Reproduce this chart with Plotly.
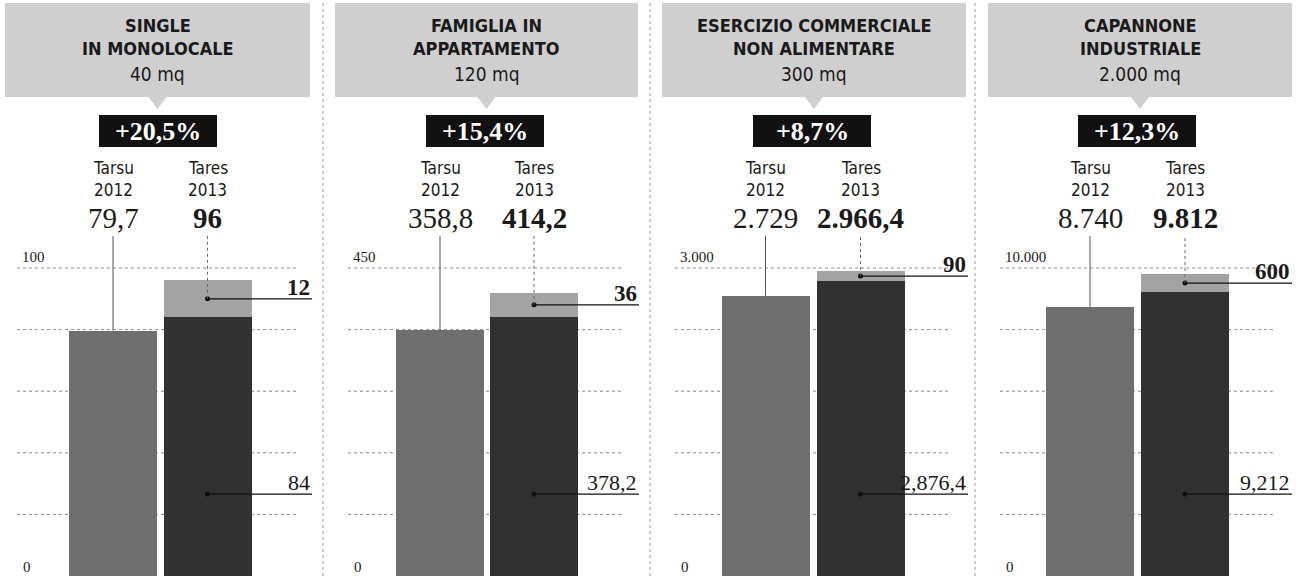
import plotly.graph_objects as go

# ---------------- data ----------------
title_line1 = ["SINGLE", "FAMIGLIA IN", "ESERCIZIO COMMERCIALE", "CAPANNONE"]
title_line2 = ["IN MONOLOCALE", "APPARTAMENTO", "NON ALIMENTARE", "INDUSTRIALE"]
surface = ["40 mq", "120 mq", "300 mq", "2.000 mq"]
pct_change = ["+20,5%", "+15,4%", "+8,7%", "+12,3%"]
categories = ["Tarsu 2012", "Tares 2013"]
cat_name = ["Tarsu", "Tares"]
cat_year = ["2012", "2013"]
tarsu_2012 = [79.7, 358.8, 2729, 8740]
tares_base = [84, 378.2, 2876.4, 9212]
tares_extra = [12, 36, 90, 600]
tarsu_text = ["79,7", "358,8", "2.729", "8.740"]
tares_text = ["96", "414,2", "2.966,4", "9.812"]
base_text = ["84", "378,2", "2,876,4", "9,212"]
extra_text = ["12", "36", "90", "600"]
axis_max = [100, 450, 3000, 10000]
axis_max_text = ["100", "450", "3.000", "10.000"]

# ---------------- style / layout constants ----------------
W, H = 1300, 576
SANS = "DejaVu Sans Condensed, Liberation Sans Narrow, Roboto, sans-serif"
SERIF = "Liberation Serif, DejaVu Serif, serif"
INK = "#1a1a1a"
C_TARSU = "#6e6e6e"
C_BASE = "#313131"
C_EXTRA = "#a3a3a3"
C_HEAD = "#cfcfcf"

grid_start = [17, 348, 675, 1000]
grid_end = [297, 623, 948, 1275]
label_right = [312, 639, 968, 1292]
c0 = [113, 440, 765.5, 1090]
c1 = [207.5, 534, 860.5, 1185]
header = [(5, 310), (335, 638), (662, 966), (988, 1292)]
box_c = [158, 485, 812, 1137]
separators = [323, 650, 975]

y_top_px = 236
y_bot_px = 576
top_grid_px = 268


def px(x):
    return x / W


def py(y):
    return 1 - y / H


fig = go.Figure()
shapes = []
annotations = []

for i in range(4):
    ax = "" if i == 0 else str(i + 1)
    xa, ya = "x" + ax, "y" + ax
    M = axis_max[i]
    scale = (y_bot_px - top_grid_px) / M  # px per unit
    y_range_top = (y_bot_px - y_top_px) / scale
    u = c1[i] - c0[i]
    x_left = -(c0[i] - grid_start[i]) / u
    x_right = (label_right[i] - c0[i]) / u
    x_grid_end = (grid_end[i] - c0[i]) / u
    bw = 88 / u

    # bars
    fig.add_trace(go.Bar(x=[categories[0]], y=[tarsu_2012[i]], marker=dict(color=C_TARSU, line=dict(width=0)),
                         width=bw, xaxis=xa, yaxis=ya, showlegend=False, hoverinfo="skip"))
    fig.add_trace(go.Bar(x=[categories[1]], y=[tares_base[i]], marker=dict(color=C_BASE, line=dict(width=0)),
                         width=bw, xaxis=xa, yaxis=ya, showlegend=False, hoverinfo="skip"))
    fig.add_trace(go.Bar(x=[categories[1]], y=[tares_extra[i]], base=[tares_base[i]],
                         marker=dict(color=C_EXTRA, line=dict(width=0)), width=bw, xaxis=xa, yaxis=ya,
                         showlegend=False, hoverinfo="skip"))

    mid = tares_base[i] + tares_extra[i] / 2
    low = 0.266 * M
    fig.add_trace(go.Scatter(x=[categories[1], categories[1]], y=[mid, low], mode="markers",
                             marker=dict(color="#111", size=5), xaxis=xa, yaxis=ya,
                             showlegend=False, hoverinfo="skip"))

    fig.update_layout(**{
        "xaxis" + ax: dict(domain=[px(grid_start[i]), px(label_right[i])], type="category",
                           categoryorder="array", categoryarray=categories,
                           range=[x_left, x_right], showticklabels=False, showgrid=False,
                           zeroline=False, showline=False, ticks="", anchor=ya, fixedrange=True),
        "yaxis" + ax: dict(domain=[0, py(y_top_px)], range=[0, y_range_top],
                           showticklabels=False, showgrid=False, zeroline=False,
                           showline=False, ticks="", anchor=xa, fixedrange=True),
    })

    # dotted gridlines
    for k in range(1, 6):
        gv = M * k / 5
        shapes.append(dict(type="line", xref=xa, yref=ya, x0=x_left, x1=x_grid_end, y0=gv, y1=gv,
                           line=dict(color="#8a8a8a", width=1, dash="dot"), layer="below"))

    # axis labels (top and zero)
    annotations.append(dict(xref=xa + " domain", yref=ya, x=0, y=M, xanchor="left", yanchor="bottom",
                            xshift=3, yshift=1, text=axis_max_text[i], showarrow=False,
                            font=dict(family=SERIF, size=15, color=INK)))
    annotations.append(dict(xref=xa + " domain", yref="paper", x=0, y=py(567), xanchor="left",
                            xshift=4, yanchor="middle", text="0", showarrow=False,
                            font=dict(family=SERIF, size=15, color=INK)))

    # leader lines
    shapes.append(dict(type="line", xref=xa, yref=ya, x0=0, x1=0, y0=tarsu_2012[i], y1=y_range_top,
                       line=dict(color="#555", width=1)))
    shapes.append(dict(type="line", xref=xa, yref=ya, x0=1, x1=1, y0=mid, y1=y_range_top,
                       line=dict(color="#666", width=1, dash="dot")))
    shapes.append(dict(type="line", xref=xa, yref=ya, x0=1, x1=x_right, y0=mid, y1=mid,
                       line=dict(color="#111", width=1.2)))
    shapes.append(dict(type="line", xref=xa, yref=ya, x0=1, x1=x_right, y0=low, y1=low,
                       line=dict(color="#111", width=1.2)))

    annotations.append(dict(xref=xa + " domain", yref=ya, x=1, y=mid, xanchor="right",
                            yanchor="bottom", yshift=-3, text="<b>" + extra_text[i] + "</b>",
                            showarrow=False, font=dict(family=SERIF, size=23, color=INK)))
    annotations.append(dict(xref=xa + " domain", yref=ya, x=1, y=low, xanchor="right",
                            yanchor="bottom", yshift=-3, text=base_text[i],
                            showarrow=False, font=dict(family=SERIF, size=22, color=INK)))

    # category labels and values above the plot
    for j in range(2):
        annotations.append(dict(xref=xa, yref="paper", x=categories[j], y=py(168), text=cat_name[j],
                                showarrow=False, xanchor="center", yanchor="middle",
                                font=dict(family=SANS, size=17, color=INK)))
        annotations.append(dict(xref=xa, yref="paper", x=categories[j], y=py(190), text=cat_year[j],
                                showarrow=False, xanchor="center", yanchor="middle",
                                font=dict(family=SANS, size=17, color=INK)))
    annotations.append(dict(xref=xa, yref="paper", x=categories[0], y=py(218), text=tarsu_text[i],
                            showarrow=False, xanchor="center", yanchor="middle",
                            font=dict(family=SERIF, size=29, color=INK)))
    annotations.append(dict(xref=xa, yref="paper", x=categories[1], y=py(218),
                            text="<b>" + tares_text[i] + "</b>", showarrow=False,
                            xanchor="center", yanchor="middle",
                            font=dict(family=SERIF, size=29, color=INK)))

    # header box with pointer
    hl, hr = header[i]
    hc = (hl + hr) / 2
    shapes.append(dict(type="rect", xref="paper", yref="paper", x0=px(hl), x1=px(hr),
                       y0=py(97), y1=py(3), fillcolor=C_HEAD, line=dict(width=0), layer="below"))
    shapes.append(dict(type="path", xref="paper", yref="paper",
                       path=f"M {px(hc - 9)} {py(97)} L {px(hc + 9)} {py(97)} L {px(hc)} {py(109)} Z",
                       fillcolor=C_HEAD, line=dict(width=0), layer="below"))
    annotations.append(dict(xref="paper", yref="paper", x=px(hc), y=py(25), text="<b>" + title_line1[i] + "</b>",
                            showarrow=False, xanchor="center", yanchor="middle",
                            font=dict(family=SANS, size=18, color=INK)))
    annotations.append(dict(xref="paper", yref="paper", x=px(hc), y=py(49), text="<b>" + title_line2[i] + "</b>",
                            showarrow=False, xanchor="center", yanchor="middle",
                            font=dict(family=SANS, size=18, color=INK)))
    annotations.append(dict(xref="paper", yref="paper", x=px(hc), y=py(74), text=surface[i],
                            showarrow=False, xanchor="center", yanchor="middle",
                            font=dict(family=SANS, size=19, color=INK)))

    # black percentage box
    bc = box_c[i]
    shapes.append(dict(type="rect", xref="paper", yref="paper", x0=px(bc - 59), x1=px(bc + 59),
                       y0=py(147), y1=py(115), fillcolor="#111", line=dict(width=0), layer="below"))
    annotations.append(dict(xref="paper", yref="paper", x=px(bc), y=py(131), text="<b>" + pct_change[i] + "</b>",
                            showarrow=False, xanchor="center", yanchor="middle",
                            font=dict(family=SERIF, size=26, color="white")))

for sx in separators:
    shapes.append(dict(type="line", xref="paper", yref="paper", x0=px(sx), x1=px(sx), y0=0, y1=1,
                       line=dict(color="#9a9a9a", width=1, dash="dot")))

fig.update_layout(width=W, height=H, margin=dict(l=0, r=0, t=0, b=0),
                  paper_bgcolor="white", plot_bgcolor="rgba(0,0,0,0)",
                  barmode="overlay", bargap=0, shapes=shapes, annotations=annotations,
                  showlegend=False)

fig.write_html("out.html")
